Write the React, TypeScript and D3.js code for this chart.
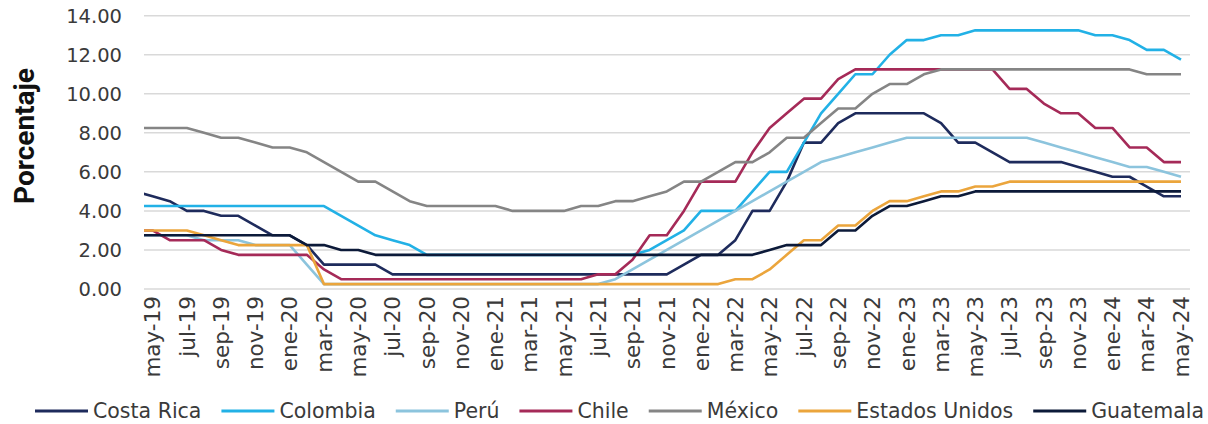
import React, { useMemo } from "react";
import * as d3 from "d3";

// ---------- DATA ----------
const MONTH_NAMES = ["ene", "feb", "mar", "abr", "may", "jun", "jul", "ago", "sep", "oct", "nov", "dic"];
// abr-19 (partly cut off at the left edge) through may-24
const categories: string[] = Array.from({ length: 62 }, (_, i) => {
  const m = (3 + i) % 12;
  const y = 19 + Math.floor((3 + i) / 12);
  return `${MONTH_NAMES[m]}-${y}`;
});
const tickLabels: string[] = categories.filter((_, i) => i % 2 === 1);
const yTicks = [0, 2, 4, 6, 8, 10, 12, 14];

const costaRica = [
  5.0, 4.75, 4.5, 4.0, 4.0, 3.75, 3.75, 3.25, 2.75, 2.75, 2.25, 1.25, 1.25, 1.25, 1.25, 0.75,
  0.75, 0.75, 0.75, 0.75, 0.75, 0.75, 0.75, 0.75, 0.75, 0.75, 0.75, 0.75, 0.75, 0.75, 0.75, 0.75,
  1.25, 1.75, 1.75, 2.5, 4.0, 4.0, 5.5, 7.5, 7.5, 8.5, 9.0, 9.0, 9.0, 9.0, 9.0, 8.5,
  7.5, 7.5, 7.0, 6.5, 6.5, 6.5, 6.5, 6.25, 6.0, 5.75, 5.75, 5.25, 4.75, 4.75,
];
const colombia = [
  4.25, 4.25, 4.25, 4.25, 4.25, 4.25, 4.25, 4.25, 4.25, 4.25, 4.25, 4.25, 3.75, 3.25, 2.75, 2.5,
  2.25, 1.75, 1.75, 1.75, 1.75, 1.75, 1.75, 1.75, 1.75, 1.75, 1.75, 1.75, 1.75, 1.75, 2.0, 2.5,
  3.0, 4.0, 4.0, 4.0, 5.0, 6.0, 6.0, 7.5, 9.0, 10.0, 11.0, 11.0, 12.0, 12.75, 12.75, 13.0,
  13.0, 13.25, 13.25, 13.25, 13.25, 13.25, 13.25, 13.25, 13.0, 13.0, 12.75, 12.25, 12.25, 11.75,
];
const peru = [
  2.75, 2.75, 2.75, 2.75, 2.5, 2.5, 2.5, 2.25, 2.25, 2.25, 1.25, 0.25, 0.25, 0.25, 0.25, 0.25,
  0.25, 0.25, 0.25, 0.25, 0.25, 0.25, 0.25, 0.25, 0.25, 0.25, 0.25, 0.25, 0.5, 1.0, 1.5, 2.0,
  2.5, 3.0, 3.5, 4.0, 4.5, 5.0, 5.5, 6.0, 6.5, 6.75, 7.0, 7.25, 7.5, 7.75, 7.75, 7.75,
  7.75, 7.75, 7.75, 7.75, 7.75, 7.5, 7.25, 7.0, 6.75, 6.5, 6.25, 6.25, 6.0, 5.75,
];
const chile = [
  3.0, 3.0, 2.5, 2.5, 2.5, 2.0, 1.75, 1.75, 1.75, 1.75, 1.75, 1.0, 0.5, 0.5, 0.5, 0.5,
  0.5, 0.5, 0.5, 0.5, 0.5, 0.5, 0.5, 0.5, 0.5, 0.5, 0.5, 0.75, 0.75, 1.5, 2.75, 2.75,
  4.0, 5.5, 5.5, 5.5, 7.0, 8.25, 9.0, 9.75, 9.75, 10.75, 11.25, 11.25, 11.25, 11.25, 11.25, 11.25,
  11.25, 11.25, 11.25, 10.25, 10.25, 9.5, 9.0, 9.0, 8.25, 8.25, 7.25, 7.25, 6.5, 6.5,
];
const mexico = [
  8.25, 8.25, 8.25, 8.25, 8.0, 7.75, 7.75, 7.5, 7.25, 7.25, 7.0, 6.5, 6.0, 5.5, 5.5, 5.0,
  4.5, 4.25, 4.25, 4.25, 4.25, 4.25, 4.0, 4.0, 4.0, 4.0, 4.25, 4.25, 4.5, 4.5, 4.75, 5.0,
  5.5, 5.5, 6.0, 6.5, 6.5, 7.0, 7.75, 7.75, 8.5, 9.25, 9.25, 10.0, 10.5, 10.5, 11.0, 11.25,
  11.25, 11.25, 11.25, 11.25, 11.25, 11.25, 11.25, 11.25, 11.25, 11.25, 11.25, 11.0, 11.0, 11.0,
];
const estadosUnidos = [
  3.0, 3.0, 3.0, 3.0, 2.75, 2.5, 2.25, 2.25, 2.25, 2.25, 2.25, 0.25, 0.25, 0.25, 0.25, 0.25,
  0.25, 0.25, 0.25, 0.25, 0.25, 0.25, 0.25, 0.25, 0.25, 0.25, 0.25, 0.25, 0.25, 0.25, 0.25, 0.25,
  0.25, 0.25, 0.25, 0.5, 0.5, 1.0, 1.75, 2.5, 2.5, 3.25, 3.25, 4.0, 4.5, 4.5, 4.75, 5.0,
  5.0, 5.25, 5.25, 5.5, 5.5, 5.5, 5.5, 5.5, 5.5, 5.5, 5.5, 5.5, 5.5, 5.5,
];
const guatemala = [
  2.75, 2.75, 2.75, 2.75, 2.75, 2.75, 2.75, 2.75, 2.75, 2.75, 2.25, 2.25, 2.0, 2.0, 1.75, 1.75,
  1.75, 1.75, 1.75, 1.75, 1.75, 1.75, 1.75, 1.75, 1.75, 1.75, 1.75, 1.75, 1.75, 1.75, 1.75, 1.75,
  1.75, 1.75, 1.75, 1.75, 1.75, 2.0, 2.25, 2.25, 2.25, 3.0, 3.0, 3.75, 4.25, 4.25, 4.5, 4.75,
  4.75, 5.0, 5.0, 5.0, 5.0, 5.0, 5.0, 5.0, 5.0, 5.0, 5.0, 5.0, 5.0, 5.0,
];

const seriesNames = ["Costa Rica", "Colombia", "Perú", "Chile", "México", "Estados Unidos", "Guatemala"];
const seriesValues = [costaRica, colombia, peru, chile, mexico, estadosUnidos, guatemala];
const seriesColors = ["#1e2b5c", "#22b1e6", "#8cc4dd", "#a52a58", "#858585", "#eba53c", "#0c1a39"];

// ---------- LAYOUT ----------
const W = 1208;
const H = 424;
const PLOT_LEFT = 144;
const PLOT_RIGHT = 1190;
const PLOT_TOP = 15.7;
const PLOT_BOTTOM = 289;
const FONT = "'DejaVu Sans', sans-serif";
const TEXT_COLOR = "#3a3a3a";
const LEGEND_FS = 20.5;

function measure(text: string, font: string): number {
  const c = document.createElement("canvas");
  const ctx = c.getContext("2d");
  if (!ctx) return text.length * 11;
  ctx.font = font;
  return ctx.measureText(text).width;
}

export default function App() {
  const x = d3.scaleLinear().domain([0.5, 61]).range([PLOT_LEFT, 1181]);
  const y = d3.scaleLinear().domain([0, 14]).range([PLOT_BOTTOM, PLOT_TOP]);
  const line = d3
    .line<number>()
    .x((_, i) => x(i))
    .y((d) => y(d));

  const legend = useMemo(() => {
    const items: { name: string; color: string; x0: number; tx: number }[] = [];
    let cur = 35;
    seriesNames.forEach((name, i) => {
      const w = measure(name, `${LEGEND_FS}px 'DejaVu Sans'`);
      items.push({ name, color: seriesColors[i], x0: cur, tx: cur + 58 });
      cur += 58 + w + 20;
    });
    return items;
  }, []);

  return (
    <svg
      width={W}
      height={H}
      style={{ position: "absolute", left: 0, top: 0, background: "#fff" }}
      fontFamily={FONT}
    >
      <defs>
        <clipPath id="plotClip">
          <rect x={PLOT_LEFT} y={0} width={PLOT_RIGHT - PLOT_LEFT} height={H} />
        </clipPath>
      </defs>

      {/* gridlines */}
      {yTicks.map((t) => (
        <line
          key={`g${t}`}
          x1={PLOT_LEFT}
          x2={PLOT_RIGHT}
          y1={y(t)}
          y2={y(t)}
          stroke="#d9d9d9"
          strokeWidth={1.5}
        />
      ))}

      {/* y tick labels */}
      {yTicks.map((t) => (
        <text
          key={`yl${t}`}
          x={122}
          y={y(t)}
          dy="0.36em"
          textAnchor="end"
          fontSize={19.5}
          fill={TEXT_COLOR}
        >
          {d3.format(".2f")(t)}
        </text>
      ))}

      {/* y axis title */}
      <text
        transform={`translate(33.5, 136) rotate(-90)`}
        textAnchor="middle"
        fontFamily="Roboto, sans-serif"
        fontWeight={700}
        fontSize={28}
        fill="#111"
      >
        Porcentaje
      </text>

      {/* x tick labels */}
      {categories.map((c, i) =>
        tickLabels.includes(c) ? (
          <text
            key={`xl${c}`}
            transform={`translate(${x(i)}, 296) rotate(-90)`}
            dy="0.36em"
            textAnchor="end"
            fontSize={21.5}
            fill={TEXT_COLOR}
          >
            {c}
          </text>
        ) : null
      )}

      {/* series lines */}
      <g clipPath="url(#plotClip)">
        {seriesValues.map((vals, i) => (
          <path
            key={seriesNames[i]}
            d={line(vals) || ""}
            fill="none"
            stroke={seriesColors[i]}
            strokeWidth={2.6}
            strokeLinejoin="round"
          />
        ))}
      </g>

      {/* legend */}
      {legend.map((it) => (
        <g key={`lg${it.name}`}>
          <line x1={it.x0} x2={it.x0 + 53} y1={411} y2={411} stroke={it.color} strokeWidth={2.8} />
          <text x={it.tx} y={411} dy="0.36em" fontSize={LEGEND_FS} fill={TEXT_COLOR}>
            {it.name}
          </text>
        </g>
      ))}
    </svg>
  );
}
